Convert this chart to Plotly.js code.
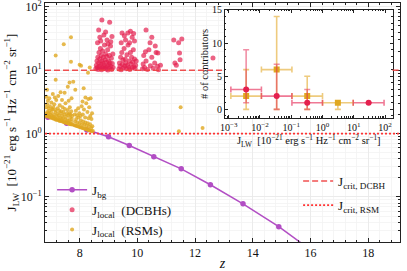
<!DOCTYPE html>
<html><head><meta charset="utf-8">
<script src="https://cdn.plot.ly/plotly-3.0.1.min.js"></script>
<style>html,body{margin:0;padding:0;background:#fff}#chart{width:407px;height:271px}</style>
</head><body><div id="chart"></div>
<script>
// ---- background LW intensity ----
const bgZ = [6.9, 7.55, 8.25, 9.0, 9.72, 10.57, 11.52, 12.53, 13.66, 14.9, 16.2];
const bgJ = [1.81, 1.46, 1.14, 0.89, 0.65, 0.43, 0.278, 0.156, 0.078, 0.034, 0.0126];

// ---- local intensity at DCBH sites ----
const dcbhZ = [8.56,8.58,8.6,8.61,8.63,8.64,8.66,8.67,8.68,8.7,8.71,8.72,8.74,8.75,8.76,8.77,8.79,8.8,8.81,8.82,8.84,8.85,8.86,8.88,8.89,8.9,8.92,8.93,8.94,8.96,8.97,8.98,9.0,9.01,9.03,9.04,9.05,9.07,9.08,9.1,9.11,9.13,9.15,9.16,
8.77,9.04,8.66,8.7,8.84,8.95,9.08,8.62,9.12,8.9,8.73,8.98,
9.36,9.38,9.4,9.42,9.44,9.46,9.48,9.5,9.52,9.54,9.56,9.58,9.6,9.62,9.64,9.66,9.68,9.7,9.72,9.74,9.76,9.78,9.8,9.82,9.84,9.86,9.88,9.9,9.92,9.94,9.96,
9.76,9.67,9.47,9.59,9.82,9.44,9.9,9.55,9.73,9.87,
10.18,10.2,10.22,10.25,10.3,10.35,10.4,10.45,10.5,10.55,10.6,10.65,10.7,10.73,10.8,
10.3,10.5,10.44,10.28,10.71,10.62,
11.26,11.43,11.54,11.48,11.46,11.35,11.3,
12.62];
const dcbhJ = [10.5,12,14,11,16,10.3,13,19,11.5,15,10.8,22,12.5,17,10.2,14,11,20,13,16,10.6,12,25,14.5,11.2,18,10.4,13.5,16.5,11.8,21,10.1,14,12.2,17,10.7,13,24,11.4,15.5,10.3,12.8,18,11,
62,57,43,33,36,30,28,27,34,40,29,26,
10.4,13,11.5,16,10.2,19,12.3,14.5,10.8,22,11.6,15,13,10.5,17.5,12,25,11,14,10.3,19,12.5,16,10.9,13.5,21,11.3,15,10.6,12,14,
41,38.6,38.6,30,33,27,29,35,27,38,
10.5,12.5,17,11,14,10.3,21,11.8,16,10.7,13,19,11.5,10.2,12,
43,33,27,19.5,18.6,24,
30,27,31,14.6,18.6,12,13,
15.6];

// ---- local intensity at RSM sites ----
const rsmZ = [6.83,6.84,6.86,6.88,6.89,6.91,6.93,6.95,6.96,6.98,7.0,7.01,7.03,7.05,7.06,7.08,7.1,7.11,7.13,7.15,7.16,7.18,7.2,7.21,7.23,7.25,7.27,7.28,7.3,7.32,7.33,7.35,7.37,7.38,7.4,7.42,7.43,7.45,7.47,7.48,7.5,7.52,7.53,7.55,7.57,7.58,7.6,7.62,7.63,7.65,7.67,7.68,7.7,7.72,7.73,7.75,
6.84,6.87,6.9,6.92,6.97,7.02,7.04,7.09,7.12,7.17,7.19,7.24,7.29,7.31,7.36,7.41,7.44,7.49,7.51,7.56,7.59,7.64,7.66,7.69,7.71,7.74,
6.85,6.87,6.95,7.07,7.14,7.17,7.17,7.26,7.34,7.45,7.48,7.39,7.59,7.62,7.65,7.7,7.7,7.72,7.78,
7.82,7.84,7.86,7.88,7.9,7.92,7.94,7.96,7.98,8.0,8.02,8.04,8.06,8.08,8.1,8.12,8.14,8.16,8.18,8.2,8.22,8.24,8.26,8.28,8.3,8.32,8.34,8.36,8.38,8.4,8.42,8.44,8.46,
7.83,7.87,7.91,7.95,7.99,8.03,8.07,8.11,8.15,8.19,8.23,8.27,8.31,8.33,8.37,8.41,8.43,
7.85,8.0,8.05,8.14,8.2,8.29,8.35,8.3,8.38,8.1,
11.5,11.44,12.26];
const rsmJ = [1.88,2.05,1.95,2.2,1.86,2.1,1.9,2.3,1.82,2.0,1.78,2.15,1.9,1.76,2.4,1.85,1.72,2.0,1.8,1.7,2.2,1.66,1.9,1.65,2.05,1.75,1.62,1.95,1.6,1.8,1.58,2.1,1.7,1.56,1.9,1.55,1.75,1.52,2.0,1.5,1.68,1.49,1.85,1.48,1.62,1.46,1.95,1.45,1.6,1.42,1.78,1.41,1.55,1.4,1.7,1.39,
2.6,2.9,3.3,2.5,2.7,3.1,2.45,2.6,2.9,2.35,3.4,2.5,2.3,2.8,2.25,2.6,2.2,2.45,3.0,2.1,2.35,2.05,2.6,2.0,2.25,1.9,
3.8,4.9,3.6,4.2,3.7,7.1,17,3.9,4.5,25.6,4.4,3.4,5.5,3.3,6.4,13.6,33,3.6,6.6,
1.36,1.55,1.34,1.7,1.32,1.5,1.3,1.8,1.28,1.45,1.26,1.62,1.25,1.4,1.22,1.55,1.21,1.38,1.19,1.5,1.18,1.33,1.16,1.45,1.14,1.28,1.13,1.4,1.11,1.22,1.1,1.3,1.1,
2.0,2.3,1.95,2.5,2.1,1.9,2.7,2.0,2.4,1.8,3.0,2.2,1.75,2.6,1.9,1.7,2.1,
4.9,12.2,11.8,5.2,3.7,9.1,11,3.5,3.6,3.2,
2.6,1.09,1.23];

// ---- critical intensities ----
const jCritDCBH = 10;
const jCritRSM = 1;

// ---- inset histogram (number of contributors per J bin) ----
const binEdges = [0.00117, 0.0111, 0.105, 1.0, 9.6, 93];
const dcbhCount = [3, 2, 1, null, 1];
const dcbhErrLo = [2, 2, 1, null, 0];
const dcbhErrHi = [6, 4.8, 2, null, 0];
const rsmCount  = [2, 6, 2, 1, null];
const rsmErrLo  = [2, 6, 2, 1, null];
const rsmErrHi  = [4, 8, 3, 0, null];

const zTicks = [8, 10, 12, 14, 16, 18];
const jTicks = [0.1, 1, 10, 100];
const jTickText = ['10<sup>−1</sup>', '10<sup>0</sup>', '10<sup>1</sup>', '10<sup>2</sup>'];
const insetXTicks = [0.001, 0.01, 0.1, 1, 10, 100];
const insetXTickText = ['10<sup>−3</sup>', '10<sup>−2</sup>', '10<sup>−1</sup>', '10<sup>0</sup>', '10<sup>1</sup>', '10<sup>2</sup>'];
const insetYTicks = [0, 5, 10, 15];

// ---- derived inset geometry ----
const binCenter = binEdges.slice(0, -1).map((lo, i) => Math.sqrt(lo * binEdges[i + 1]));
const binPlus = binCenter.map((c, i) => binEdges[i + 1] - c);
const binMinus = binCenter.map((c, i) => c - binEdges[i]);

const FONT = 'Liberation Serif, Times New Roman, serif';
const RED = 'rgb(228,32,78)';
const GOLD = 'rgb(224,168,32)';
const PURPLE = '#b24ec4';
const DASHRED = 'rgba(238,62,62,0.9)';
const DOTRED = '#ff3333';

const traces = [
  {x: bgZ, y: bgJ, type: 'scatter', mode: 'lines+markers', name: 'J<sub>bg</sub>',
   line: {color: PURPLE, width: 1.5}, marker: {color: PURPLE, size: 5.5}, xaxis: 'x', yaxis: 'y'},
  {x: dcbhZ, y: dcbhJ, type: 'scatter', mode: 'markers', name: 'J<sub>local</sub>  (DCBHs)',
   marker: {color: RED, size: 5, opacity: 0.7, line: {width: 0}}, xaxis: 'x', yaxis: 'y'},
  {x: rsmZ, y: rsmJ, type: 'scatter', mode: 'markers', name: 'J<sub>local</sub>  (RSMs)',
   marker: {color: GOLD, size: 4, opacity: 0.8, line: {width: 0}}, xaxis: 'x', yaxis: 'y'},
  {x: binCenter, y: rsmCount, type: 'scatter', mode: 'markers', showlegend: false,
   marker: {color: GOLD, size: 6, symbol: 'square'},
   error_x: {type: 'data', array: binPlus, arrayminus: binMinus, color: 'rgba(226,168,40,0.6)', thickness: 1.6, width: 3},
   error_y: {type: 'data', array: rsmErrHi, arrayminus: rsmErrLo, color: 'rgba(226,168,40,0.6)', thickness: 1.6, width: 3},
   xaxis: 'x2', yaxis: 'y2'},
  {x: binCenter, y: dcbhCount, type: 'scatter', mode: 'markers', showlegend: false,
   marker: {color: RED, size: 6},
   error_x: {type: 'data', array: binPlus, arrayminus: binMinus, color: 'rgba(228,32,78,0.6)', thickness: 1.6, width: 3},
   error_y: {type: 'data', array: dcbhErrHi, arrayminus: dcbhErrLo, color: 'rgba(228,32,78,0.5)', thickness: 1.6, width: 3},
   xaxis: 'x2', yaxis: 'y2'}
];

const insetX = [0.507, 0.979];
const insetY = [0.519, 0.971];

const shapes = [
  // J_crit,DCBH: drawn above the grid, interrupted by the inset
  {type: 'line', xref: 'x domain', x0: 0, x1: insetX[0], yref: 'y', y0: jCritDCBH, y1: jCritDCBH, layer: 'above',
   line: {color: DASHRED, width: 1.5, dash: '6px,3px'},
   showlegend: true, legend: 'legend2', name: 'J<sub>crit, DCBH</sub>'},
  {type: 'line', xref: 'x domain', x0: insetX[1], x1: 1, yref: 'y', y0: jCritDCBH, y1: jCritDCBH, layer: 'above',
   line: {color: DASHRED, width: 1.5, dash: '6px,3px'}, showlegend: false},
  {type: 'line', xref: 'x domain', x0: 0, x1: 1, yref: 'y', y0: jCritRSM, y1: jCritRSM, layer: 'above',
   line: {color: DOTRED, width: 1.8, dash: '2px,2px'},
   showlegend: true, legend: 'legend3', name: 'J<sub>crit, RSM</sub>'},
  // white background of the inset (inset subplot's lower layer, drawn after the main subplot)
  {type: 'rect', xref: 'x2 domain', yref: 'y2 domain', x0: 0, x1: 1, y0: 0, y1: 1,
   layer: 'below', fillcolor: '#ffffff', line: {width: 0}},
  {type: 'line', xref: 'x2', x0: jCritRSM, x1: jCritRSM, yref: 'y2 domain', y0: 0, y1: 1, layer: 'below',
   line: {color: 'rgba(255,51,51,0.8)', width: 1.5, dash: '2px,2px'}},
  {type: 'line', xref: 'x2', x0: jCritDCBH, x1: jCritDCBH, yref: 'y2 domain', y0: 0, y1: 1, layer: 'below',
   line: {color: DASHRED, width: 1.3, dash: '5px,3px'}}
];

const axBase = {showline: true, linecolor: '#222', linewidth: 1, mirror: 'allticks', ticks: 'inside',
  tickcolor: '#222', zeroline: false, ticklabeloverflow: 'allow'};

const layout = {
  width: 407, height: 271,
  margin: {l: 45, r: 7, t: 3, b: 29},
  paper_bgcolor: '#fff', plot_bgcolor: '#fff',
  font: {family: FONT, color: '#111', size: 12},
  showlegend: true,
  xaxis: Object.assign({}, axBase, {
    range: [6.8, 19.1], tickvals: zTicks, ticklen: 4, tickfont: {size: 12},
    showgrid: true, gridcolor: '#e8e8e8', gridwidth: 0.8,
    minor: {dtick: 0.4, tick0: 0, ticks: 'inside', ticklen: 2, tickcolor: '#222', showgrid: true, gridcolor: '#f3f3f3'},
    title: {text: '<i>z</i>', font: {size: 14}, standoff: 4}
  }),
  yaxis: Object.assign({}, axBase, {
    type: 'log', range: [-1.71, 2.06], tickvals: jTicks, ticktext: jTickText, ticklen: 4, tickfont: {size: 12},
    showgrid: true, gridcolor: '#e8e8e8', gridwidth: 0.8,
    minor: {dtick: 'D1', ticks: 'inside', ticklen: 2, tickcolor: '#222', showgrid: true, gridcolor: '#f3f3f3'},
    title: {text: 'J<sub>LW</sub>  [10<sup>−21</sup> erg s<sup>−1</sup> Hz<sup>−1</sup> cm<sup>−2</sup> sr<sup>−1</sup>]', font: {size: 13}, standoff: 0}
  }),
  xaxis2: Object.assign({}, axBase, {
    type: 'log', domain: insetX, anchor: 'y2', range: [-3.12, 2.24], tickvals: insetXTicks, ticktext: insetXTickText,
    ticklen: 3, tickfont: {size: 10}, showgrid: false,
    minor: {dtick: 'D1', ticks: 'inside', ticklen: 1.5, tickcolor: '#222', showgrid: false},
    title: {text: 'J<sub>LW</sub>  [10<sup>−21</sup> erg s<sup>−1</sup> Hz<sup>−1</sup> cm<sup>−2</sup> sr<sup>−1</sup>]', font: {size: 10.5}, standoff: 1}
  }),
  yaxis2: Object.assign({}, axBase, {
    domain: insetY, anchor: 'x2', range: [-1.3, 15], tickvals: insetYTicks, ticklen: 3, tickfont: {size: 10},
    showgrid: false,
    minor: {dtick: 1, ticks: 'inside', ticklen: 1.5, tickcolor: '#222', showgrid: false},
    title: {text: '# of contributors', font: {size: 10.5}, standoff: 1}
  }),
  legend: {x: 0.02, y: 0.281, xanchor: 'left', yanchor: 'top', bgcolor: 'rgba(0,0,0,0)', font: {size: 13}},
  legend2: {x: 0.713, y: 0.318, xanchor: 'left', yanchor: 'top', bgcolor: 'rgba(0,0,0,0)', font: {size: 13}},
  legend3: {x: 0.713, y: 0.217, xanchor: 'left', yanchor: 'top', bgcolor: 'rgba(0,0,0,0)', font: {size: 13}},
  shapes: shapes
};

Plotly.newPlot('chart', traces, layout, {staticPlot: true, displayModeBar: false});
</script>
</body></html>
